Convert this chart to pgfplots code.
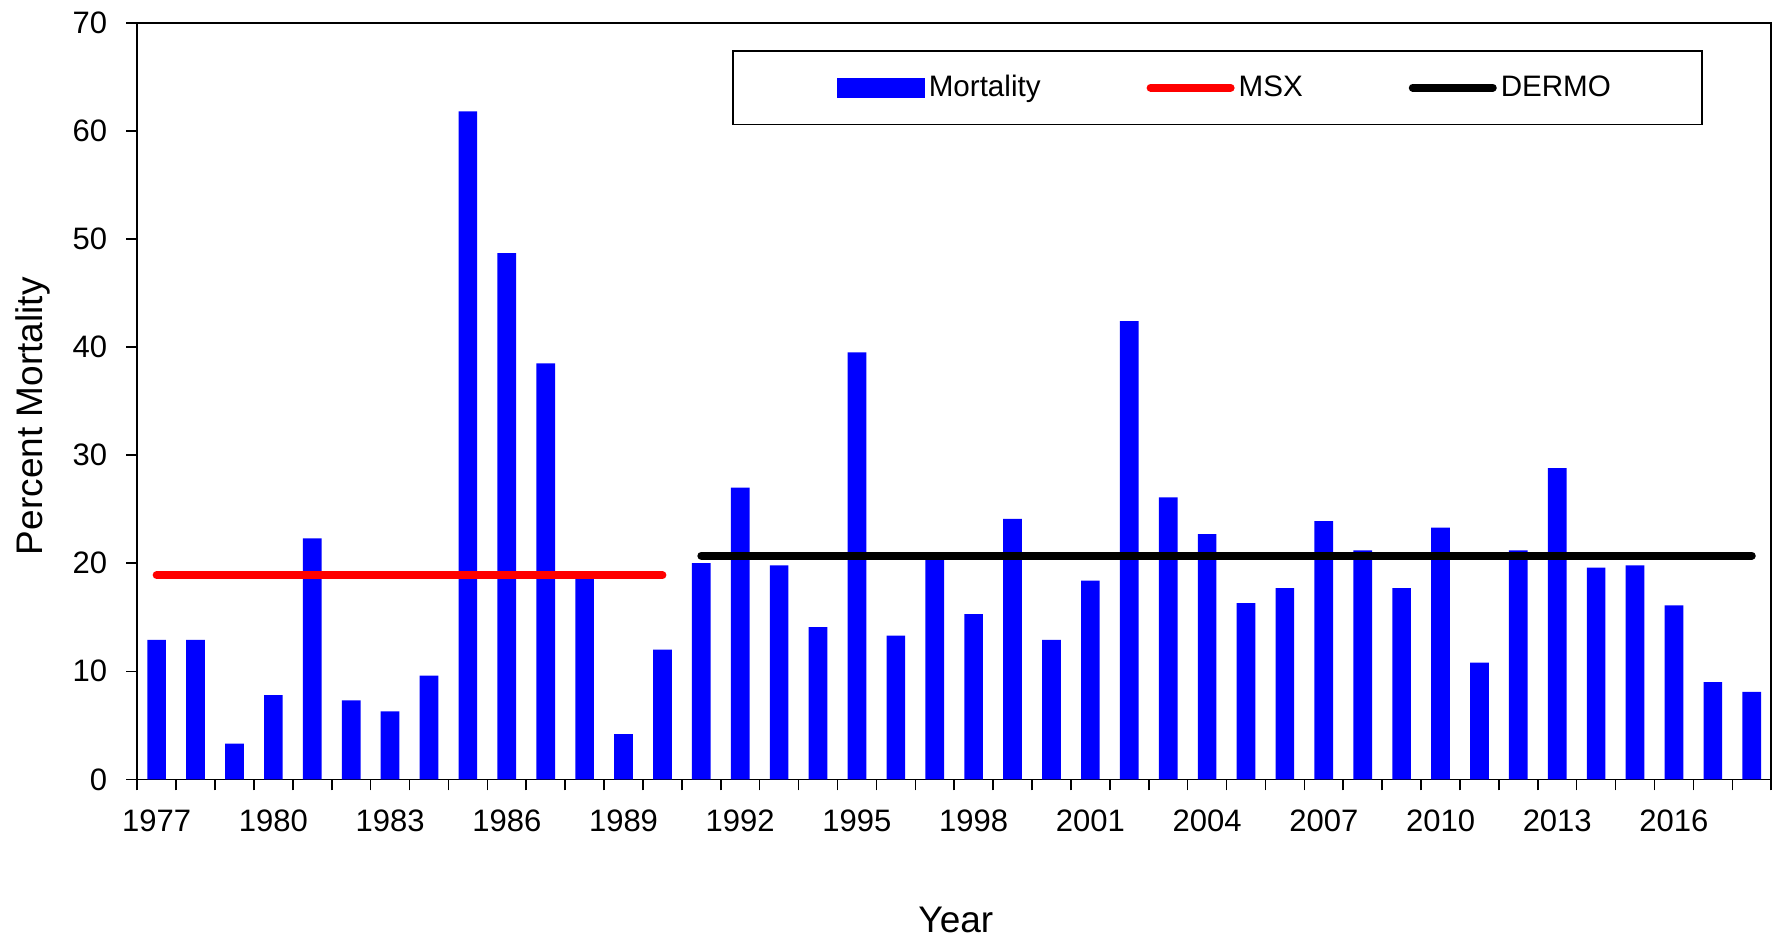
\documentclass[border=0pt]{standalone}
\usepackage{pgfplots}
\pgfplotsset{compat=1.18}
\usepackage{fontspec}
\setmainfont{Liberation Sans}
\definecolor{barblue}{RGB}{0,0,255}
\definecolor{msxred}{RGB}{255,0,0}
\begin{document}
\begin{tikzpicture}
\useasboundingbox (-68.6pt,-81.2pt) rectangle (827.4pt,389.7pt);
\begin{axis}[
  at={(0pt,0pt)}, anchor=south west,
  scale only axis, width=817pt, height=378.3pt,
  xmin=-0.5, xmax=41.5, ymin=0, ymax=70,
  ytick={0,10,...,70},
  xtick={0,3,...,39},
  xticklabels={1977,1980,1983,1986,1989,1992,1995,1998,2001,2004,2007,2010,2013,2016},
  minor xtick={-0.5,0.5,...,41.5},
  major x tick style={draw=none},
  tick align=outside, tick pos=left,
  major tick length=5.5pt, minor tick length=5.5pt,
  every tick/.style={black, line width=0.8pt},
  axis line style={line width=0.8pt},
  /pgf/number format/assume math mode=true,
  ticklabel style={font=\fontsize{15.5}{18}\selectfont},
  xticklabel style={yshift=-6.3pt},
  yticklabel style={xshift=-6pt},
  xlabel={Year}, ylabel={Percent Mortality},
  label style={font=\fontsize{18.5}{22}\selectfont, inner sep=0pt},
  xlabel style={at={(axis description cs:0.501,-0.186)}, anchor=center},
  ylabel style={at={(axis description cs:-0.064,0.48)}, anchor=center, rotate=0},
  legend columns=3,
  legend style={at={(rel axis cs:0.364,0.964)}, anchor=north west,
    draw=black, line width=0.8pt, inner xsep=43.5pt, inner ysep=10.3pt,
    font=\fontsize{14.8}{17}\selectfont,
    /tikz/every even column/.append style={column sep=51pt}},
]
\addplot[ybar, bar width=0.48, fill=barblue, draw=none,
  legend image code/.code={\path (-8.5pt,0pt); \fill[barblue] (0pt,-5pt) rectangle (44pt,5pt);}]
  coordinates {
  (0,12.9) (1,12.9) (2,3.3) (3,7.8) (4,22.3) (5,7.3) (6,6.3) (7,9.6)
  (8,61.8) (9,48.7) (10,38.5) (11,19.0) (12,4.2) (13,12.0) (14,20.0)
  (15,27.0) (16,19.8) (17,14.1) (18,39.5) (19,13.3) (20,20.7) (21,15.3)
  (22,24.1) (23,12.9) (24,18.4) (25,42.4) (26,26.1) (27,22.7) (28,16.3)
  (29,17.7) (30,23.9) (31,21.2) (32,17.7) (33,23.3) (34,10.8) (35,21.2)
  (36,28.8) (37,19.6) (38,19.8) (39,16.1) (40,9.0) (41,8.1)
  };
\addlegendentry{Mortality}
\addplot[msxred, line width=4pt, line cap=round, mark=none,
  legend image code/.code={\draw[msxred, line width=4pt, line cap=round] (2pt,0pt) -- (42pt,0pt);}]
  coordinates {(0,18.9) (13,18.9)};
\addlegendentry{MSX}
\addplot[black, line width=4pt, line cap=round, mark=none,
  legend image code/.code={\draw[black, line width=4pt, line cap=round] (2pt,0pt) -- (42pt,0pt);}]
  coordinates {(14,20.7) (41,20.7)};
\addlegendentry{DERMO}
\end{axis}
\end{tikzpicture}
\end{document}
